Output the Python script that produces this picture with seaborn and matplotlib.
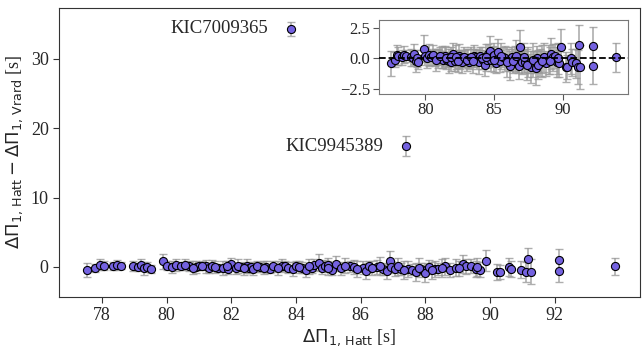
import matplotlib
matplotlib.use("Agg")
import matplotlib.pyplot as plt
import seaborn as sns
import numpy as np

# ---- data ----
x_hatt = [77.53, 77.78, 77.94, 78.05, 78.35, 78.45, 78.60, 78.96, 79.10, 79.20,
          79.30, 79.40, 79.50, 79.90, 80.00, 80.15, 80.30, 80.45, 80.70, 80.90,
          81.00, 81.20, 81.30, 81.40, 81.60, 81.75, 81.90, 82.00, 82.15, 82.30,
          82.47, 82.55, 82.60, 82.67, 82.90, 83.08, 83.20, 83.55, 83.65, 83.75,
          83.90, 84.00, 84.17, 84.30, 84.50, 84.57, 84.70, 84.80, 84.90, 84.98,
          85.10, 85.25, 85.40, 85.66, 85.80, 86.07, 86.17, 86.27, 86.50, 86.70,
          86.80, 86.90, 86.95, 87.05, 87.25, 87.46, 87.60, 87.70, 87.87, 88.00,
          88.10, 88.30, 88.40, 88.60, 88.75, 88.95, 89.15, 89.25, 89.40, 89.56,
          89.70, 89.87, 90.23, 90.30, 90.60, 90.65, 90.95, 91.10, 91.18, 91.26,
          92.14, 92.14, 93.87,
          80.55, 80.80, 81.10, 81.50, 81.85, 82.20, 82.40, 82.80, 83.00, 83.30,
          83.45, 84.10, 84.40, 85.00, 85.50, 85.90, 86.35, 86.60, 87.15, 87.35,
          87.80, 88.20, 88.50, 89.05, 89.60]
diff = [-0.4, -0.1, 0.3, 0.2, 0.1, 0.3, 0.2, 0.1, 0.0, 0.35,
        -0.2, 0.0, -0.3, 0.8, 0.2, 0.0, 0.3, 0.1, 0.1, 0.0,
        0.1, 0.1, -0.1, 0.2, -0.1, -0.2, -0.3, 0.4, -0.2, 0.0,
        0.2, -0.1, 0.0, -0.3, 0.0, 0.0, -0.3, 0.2, 0.1, -0.1,
        -0.3, 0.2, -0.1, -0.5, -0.1, 0.35, 0.6, -0.1, 0.2, 0.3,
        -0.4, 0.5, -0.2, 0.1, 0.0, -0.1, -0.6, 0.1, 0.0, -0.3,
        -0.6, 0.9, 0.0, -0.3, -0.3, -0.3, -0.4, -0.7, -0.3, -0.8,
        0.0, -0.3, -0.3, 0.1, -0.4, -0.1, 0.4, 0.1, 0.2, -0.3,
        -0.4, 0.9, -0.7, -0.7, 0.0, -0.3, -0.4, -0.7, 1.1, -0.7,
        1.0, -0.6, 0.1,
        0.3, -0.1, 0.2, 0.0, 0.1, 0.1, -0.2, 0.1, -0.1, 0.1,
        -0.2, 0.0, 0.1, -0.1, 0.2, -0.3, -0.2, 0.2, 0.1, -0.5,
        -0.1, -0.5, -0.2, -0.2, 0.0]
diff_err = [1.0, 0.6, 0.8, 0.7, 0.6, 0.7, 0.5, 0.7, 0.6, 0.8,
            0.9, 0.7, 0.6, 1.1, 0.7, 0.8, 0.9, 0.6, 0.7, 0.8,
            0.6, 0.9, 0.7, 0.8, 0.6, 1.0, 0.7, 0.9, 0.8, 0.6,
            1.0, 0.8, 0.7, 0.9, 0.7, 0.8, 0.6, 0.9, 0.7, 0.8,
            1.0, 0.7, 0.8, 0.9, 0.7, 0.8, 1.2, 0.9, 0.8, 1.0,
            0.8, 1.1, 0.9, 0.8, 1.0, 0.9, 1.2, 0.8, 1.0, 0.9,
            1.1, 1.4, 0.8, 1.0, 0.9, 1.2, 0.8, 1.3, 0.9, 1.4,
            1.0, 1.1, 0.9, 1.2, 1.0, 1.2, 1.3, 1.1, 1.0, 1.2,
            1.1, 1.5, 1.2, 1.0, 1.3, 1.1, 1.2, 1.4, 1.6, 1.8,
            1.6, 1.5, 1.2,
            0.8, 0.9, 0.7, 0.9, 0.8, 1.0, 0.9, 0.8, 0.9, 0.8,
            1.0, 0.9, 1.1, 1.0, 1.1, 1.2, 1.0, 1.3, 1.2, 1.3,
            1.4, 1.2, 1.3, 1.1, 1.3]

outlier_names = ["KIC7009365", "KIC9945389"]
outlier_x = [83.83, 87.40]
outlier_y = [34.3, 17.4]
outlier_err = [1.0, 1.4]

x_ticks_main = [78, 80, 82, 84, 86, 88, 90, 92]
y_ticks_main = [0, 10, 20, 30]
x_ticks_inset = [80, 85, 90]
y_ticks_inset = [-2.5, 0.0, 2.5]

# ---- style ----
sns.set_style("ticks")
plt.rcParams['font.family'] = ['Liberation Serif', 'DejaVu Sans']
plt.rcParams['mathtext.fontset'] = 'dejavusans'
plt.rcParams['axes.unicode_minus'] = True

fill = '#7462E0'
ecol = '#9a9a9a'

fig = plt.figure(figsize=(6.42, 3.48), dpi=100)
ax = fig.add_axes([0.092, 0.147, 0.905, 0.830])

all_x = x_hatt + outlier_x
all_y = diff + outlier_y
all_e = diff_err + outlier_err

ax.errorbar(all_x, all_y, yerr=all_e, fmt='none', ecolor=ecol, elinewidth=1.2,
            capsize=3, capthick=1.0, alpha=0.8, zorder=2)
sns.scatterplot(x=all_x, y=all_y, ax=ax, color=fill, edgecolor='black',
                linewidth=0.8, s=34, zorder=3, legend=False)

for name, xx, yy in zip(outlier_names, outlier_x, outlier_y):
    ax.annotate(name, xy=(xx, yy), xytext=(-16, 0), textcoords='offset points',
                ha='right', va='center', fontsize=13.5)

ax.set_xlim(76.67, 94.64)
ax.set_ylim(-4.3, 37.3)
ax.set_xticks(x_ticks_main)
ax.set_yticks(y_ticks_main)
ax.tick_params(labelsize=13, length=4, color='#333333')
for s in ax.spines.values():
    s.set_color('#333333')
ax.set_xlabel(r'$\Delta\Pi_{1,\,\mathrm{Hatt}}$ [s]', fontsize=13, labelpad=2)
ax.set_ylabel(r'$\Delta\Pi_{1,\,\mathrm{Hatt}} - \Delta\Pi_{1,\,\mathrm{Vrard}}$ [s]',
              fontsize=13, labelpad=4)

# ---- inset ----
axi = fig.add_axes([0.590, 0.730, 0.388, 0.213])
axi.errorbar(x_hatt, diff, yerr=diff_err, fmt='none', ecolor=ecol, elinewidth=1.2,
             capsize=3, capthick=1.0, alpha=0.8, zorder=2)
sns.scatterplot(x=x_hatt, y=diff, ax=axi, color=fill, edgecolor='black',
                linewidth=0.8, s=34, zorder=3, legend=False)
axi.axhline(0, color='black', ls='--', lw=1.3, zorder=4)
axi.set_xlim(76.63, 94.7)
axi.set_ylim(-2.9, 3.15)
axi.set_xticks(x_ticks_inset)
axi.set_yticks(y_ticks_inset)
axi.tick_params(labelsize=12, length=4, color='#555555', pad=2)
for s in axi.spines.values():
    s.set_color('#777777')

fig.savefig('out.png', dpi=100)
